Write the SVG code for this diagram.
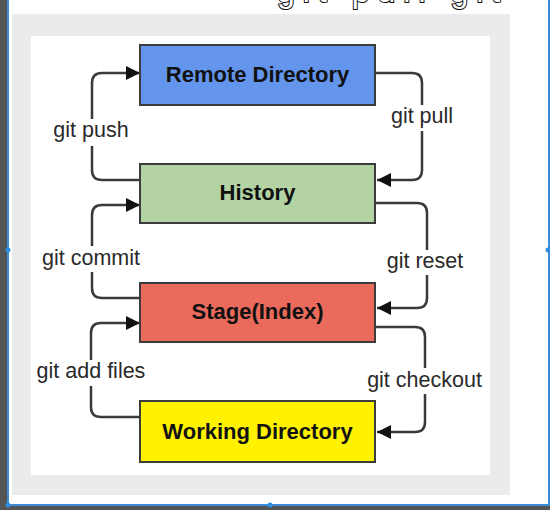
<svg xmlns="http://www.w3.org/2000/svg" width="550" height="510" viewBox="0 0 550 510">
<defs>
<style>
.box{stroke:#3c3c3c;stroke-width:2}
.bt{font-family:"Liberation Sans",Arial,sans-serif;font-weight:bold;font-size:22px;fill:#111;text-anchor:middle}
.lb{font-family:"Liberation Sans",Arial,sans-serif;font-size:21.5px;fill:#2a2a2a;text-anchor:middle}
.cn{fill:none;stroke:#3a3a3a;stroke-width:2.5;marker-end:url(#ah)}
.gap{fill:#ffffff}
.handle{fill:#2f8ee0}
</style>
<marker id="ah" markerUnits="userSpaceOnUse" markerWidth="14" markerHeight="14" refX="14" refY="7" orient="auto">
<path d="M0,0 L14,7 L0,14 Z" fill="#111"/>
</marker>
</defs>
<rect x="0" y="0" width="550" height="510" fill="#ffffff"/>
<rect x="0" y="0" width="7" height="510" fill="#555555"/>
<rect x="7" y="0" width="2" height="506" fill="#3b8ed6"/>
<rect x="0" y="506" width="550" height="4" fill="#555555"/>
<rect x="7" y="504" width="543" height="2" fill="#3b8ed6"/>
<rect x="548" y="0" width="2" height="506" fill="#3b8ed6"/>
<rect x="12" y="14" width="498" height="481" fill="#ebebeb"/>
<rect x="31" y="36" width="459" height="439" fill="#ffffff"/>
<circle class="handle" cx="8" cy="250" r="2.5"/>
<circle class="handle" cx="548" cy="250" r="2.5"/>
<circle class="handle" cx="270" cy="505" r="2.5"/>
<circle class="handle" cx="8" cy="505" r="2.5"/>
<text x="277" y="2" font-family="'Liberation Sans',Arial,sans-serif" font-size="32" letter-spacing="8" fill="#ffffff" stroke="#111" stroke-width="2" paint-order="stroke">git pull git</text>

<g id="connectors">
<path class="cn" d="M140,180 H102 Q92,180 92,170 V83 Q92,73 102,73 H140"/>
<path class="cn" d="M140,298 H102 Q92,298 92,288 V215 Q92,205 102,205 H140"/>
<path class="cn" d="M140,417 H101 Q91,417 91,407 V333 Q91,323 101,323 H140"/>
<path class="cn" d="M375,73 H412 Q422,73 422,83 V170 Q422,180 412,180 H377"/>
<path class="cn" d="M375,203 H417 Q427,203 427,213 V298 Q427,308 417,308 H377"/>
<path class="cn" d="M375,327 H415 Q425,327 425,337 V422 Q425,432 415,432 H377"/>
<rect class="gap" x="52" y="119" width="78" height="27"/>
<text class="lb" x="91" y="137">git push</text>
<rect class="gap" x="42" y="246" width="98" height="26"/>
<text class="lb" x="91" y="265">git commit</text>
<rect class="gap" x="35" y="360" width="112" height="26"/>
<text class="lb" x="91" y="378">git add files</text>
<rect class="gap" x="389" y="105" width="66" height="26"/>
<text class="lb" x="422" y="123">git pull</text>
<rect class="gap" x="385" y="250" width="80" height="25"/>
<text class="lb" x="425" y="268">git reset</text>
<rect class="gap" x="365" y="368" width="119" height="26"/>
<text class="lb" x="424.5" y="387">git checkout</text>
</g>

<g id="remote">
<rect class="box" x="140" y="45" width="235" height="60" fill="#6395ec"/>
<text class="bt" x="257.5" y="82">Remote Directory</text>
</g>
<g id="history">
<rect class="box" x="140" y="164" width="235" height="59" fill="#b3d4a2"/>
<text class="bt" x="257.5" y="200">History</text>
</g>
<g id="stage">
<rect class="box" x="140" y="283" width="235" height="59" fill="#ea6a5c"/>
<text class="bt" x="257.5" y="319">Stage(Index)</text>
</g>
<g id="working">
<rect class="box" x="140" y="401" width="235" height="61" fill="#fff200"/>
<text class="bt" x="257.5" y="439">Working Directory</text>
</g>
</svg>
